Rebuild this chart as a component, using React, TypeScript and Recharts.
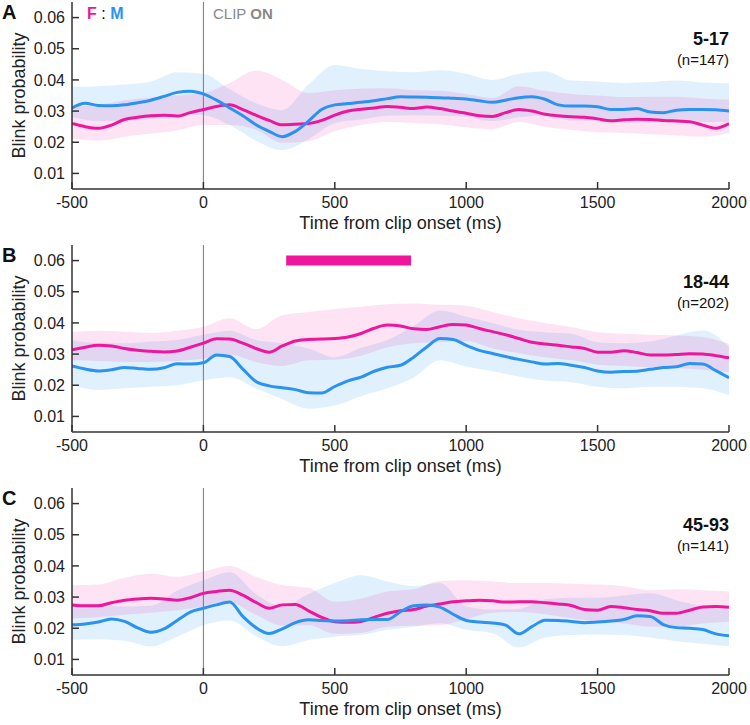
import {
  ComposedChart, Area, Line, XAxis, YAxis, ReferenceLine, ReferenceArea,
} from 'recharts';

// time grid for the mean traces (ms)
const TIMES = [
  -500, -450, -400, -350, -300, -250, -200, -150, -100, -50,
  0, 50, 100, 150, 200, 250, 300, 350, 400, 450,
  500, 550, 600, 650, 700, 750, 800, 850, 900, 950,
  1000, 1050, 1100, 1150, 1200, 1250, 1300, 1350, 1400, 1450,
  1500, 1550, 1600, 1650, 1700, 1750, 1800, 1850, 1900, 1950, 2000,
];
// coarser grid for the confidence bands
const BAND_TIMES = [
  -500, -400, -300, -200, -100, 0, 100, 200, 300, 400, 500, 600, 700,
  800, 900, 1000, 1100, 1200, 1300, 1400, 1500, 1600, 1700, 1800, 1900, 2000,
];
const X_TICKS = [-500, 0, 500, 1000, 1500, 2000];
const Y_TICKS = [0.01, 0.02, 0.03, 0.04, 0.05, 0.06];

// --- A: 5-17 ---
const A_F = [
  0.026, 0.025, 0.0245, 0.0255, 0.0273, 0.028, 0.0285, 0.0287, 0.0284, 0.0295,
  0.0305, 0.0315, 0.032, 0.0305, 0.0287, 0.027, 0.0256, 0.0258, 0.026, 0.027,
  0.0287, 0.03, 0.0306, 0.031, 0.0315, 0.0312, 0.0308, 0.0313, 0.0308, 0.03,
  0.0293, 0.0285, 0.0283, 0.0295, 0.0305, 0.03, 0.029, 0.0285, 0.0282, 0.028,
  0.0275, 0.0269, 0.0272, 0.0274, 0.0273, 0.027, 0.0268, 0.0266, 0.0255, 0.0245, 0.026,
];
const A_M = [
  0.031, 0.0325, 0.0318, 0.0317, 0.032, 0.0327, 0.0335, 0.0347, 0.036, 0.0364,
  0.0355, 0.0335, 0.031, 0.0285, 0.0256, 0.0235, 0.0218, 0.0235, 0.0268, 0.0305,
  0.032, 0.0324, 0.0328, 0.0333, 0.034, 0.0346, 0.0345, 0.0344, 0.0343, 0.0341,
  0.0339, 0.0333, 0.0328, 0.0335, 0.0343, 0.0346, 0.0338, 0.032, 0.0316, 0.0316,
  0.0314, 0.0305, 0.0305, 0.0308, 0.0297, 0.0295, 0.0303, 0.0305, 0.0305, 0.0304, 0.03,
];
const A_F_LO = [
  0.0212, 0.0205, 0.0218, 0.0228, 0.0238, 0.0255, 0.0255, 0.024, 0.0198, 0.0203, 0.0235, 0.0255, 0.0265,
  0.0262, 0.0258, 0.0248, 0.0242, 0.0265, 0.025, 0.024, 0.0232, 0.023, 0.0226, 0.0222, 0.0218, 0.023,
];
const A_F_HI = [
  0.0314, 0.032, 0.0335, 0.0343, 0.035, 0.0358, 0.039, 0.043, 0.04, 0.0358, 0.0367, 0.0372, 0.0373,
  0.0367, 0.0365, 0.0355, 0.0342, 0.038, 0.0365, 0.0355, 0.035, 0.0345, 0.0346, 0.0346, 0.034, 0.0336,
];
const A_M_LO = [
  0.028, 0.0268, 0.027, 0.0275, 0.029, 0.0287, 0.0255, 0.0205, 0.0175, 0.021, 0.0262, 0.0273, 0.0285,
  0.0287, 0.0285, 0.0282, 0.0268, 0.028, 0.0287, 0.027, 0.0268, 0.0262, 0.0263, 0.0266, 0.0265, 0.0266,
];
const A_M_HI = [
  0.0378, 0.038, 0.0385, 0.0395, 0.0425, 0.042, 0.037, 0.0325, 0.0303, 0.0385, 0.0448, 0.0435, 0.0428,
  0.0425, 0.0431, 0.042, 0.04, 0.042, 0.0428, 0.0398, 0.0395, 0.039, 0.0393, 0.0398, 0.0392, 0.0389,
];

// --- B: 18-44 ---
const B_F = [
  0.0314, 0.0322, 0.0328, 0.0326, 0.0318, 0.0312, 0.0309, 0.0307, 0.031, 0.0322,
  0.0335, 0.0349, 0.0348, 0.0335, 0.0318, 0.0306, 0.0326, 0.0342, 0.0347, 0.0348,
  0.035, 0.0355, 0.0366, 0.0383, 0.0393, 0.039, 0.0381, 0.0379, 0.0388, 0.0395,
  0.0393, 0.0382, 0.0372, 0.0362, 0.035, 0.0338, 0.0332, 0.0328, 0.0323, 0.0318,
  0.0306, 0.0306, 0.0311, 0.0305, 0.0297, 0.0297, 0.0299, 0.0301, 0.03, 0.0295, 0.0288,
];
const B_M = [
  0.0262, 0.0252, 0.0246, 0.025, 0.0257, 0.0254, 0.0251, 0.0256, 0.0269, 0.0268,
  0.0272, 0.0297, 0.0292, 0.0252, 0.0212, 0.0198, 0.0192, 0.0186, 0.0176, 0.0175,
  0.0196, 0.0214, 0.0226, 0.0245, 0.0258, 0.0264, 0.029, 0.0323, 0.035, 0.0347,
  0.0328, 0.0312, 0.0302, 0.0292, 0.0283, 0.0275, 0.0268, 0.027, 0.0264, 0.0257,
  0.0246, 0.0242, 0.0244, 0.0245, 0.0251, 0.0257, 0.0259, 0.027, 0.0268, 0.0247, 0.0224,
];
const B_F_LO = [
  0.028, 0.0278, 0.0275, 0.0275, 0.0278, 0.0285, 0.0298, 0.0275, 0.0262, 0.028, 0.0282, 0.0295, 0.0322,
  0.0335, 0.0338, 0.0342, 0.0318, 0.0303, 0.029, 0.028, 0.0266, 0.0262, 0.0258, 0.0255, 0.025, 0.0242,
];
const B_F_HI = [
  0.0371, 0.0375, 0.0372, 0.0368, 0.0375, 0.0387, 0.0415, 0.038, 0.0425, 0.0435, 0.0445, 0.0452, 0.046,
  0.0462, 0.0458, 0.0455, 0.0435, 0.0415, 0.04, 0.0387, 0.037, 0.0365, 0.0362, 0.036, 0.0355, 0.0333,
];
const B_M_LO = [
  0.02, 0.0185, 0.019, 0.0195, 0.02, 0.0216, 0.0226, 0.019, 0.0155, 0.0125, 0.0135, 0.0165, 0.019,
  0.0225, 0.028, 0.026, 0.0245, 0.0228, 0.0215, 0.021, 0.0195, 0.019, 0.0195, 0.0195, 0.019, 0.0168,
];
const B_M_HI = [
  0.0344, 0.0335, 0.0335, 0.034, 0.0345, 0.0362, 0.0375, 0.0345, 0.0335, 0.0318, 0.029, 0.032, 0.0345,
  0.039, 0.044, 0.042, 0.04, 0.0378, 0.037, 0.0365, 0.0338, 0.0335, 0.034, 0.036, 0.0376, 0.0324,
];
// significant-difference bar in panel B (ms)
const B_SIG = [315, 790];

// --- C: 45-93 ---
const C_F = [
  0.0275, 0.0272, 0.0272, 0.0282, 0.029, 0.0294, 0.0296, 0.0294, 0.029, 0.0298,
  0.0312, 0.0318, 0.0322, 0.0306, 0.0283, 0.0264, 0.0275, 0.0276, 0.0256, 0.0235,
  0.0221, 0.0219, 0.0222, 0.0235, 0.0248, 0.0256, 0.026, 0.0271, 0.0278, 0.0285,
  0.0288, 0.029, 0.0288, 0.0284, 0.0285, 0.0285, 0.0282, 0.0278, 0.0273, 0.026,
  0.0258, 0.027, 0.0266, 0.026, 0.0256, 0.0248, 0.0248, 0.0258, 0.0268, 0.027, 0.0267,
];
const C_M = [
  0.0211, 0.0214, 0.022, 0.023, 0.0222, 0.0201, 0.0187, 0.0198, 0.0225, 0.0252,
  0.0264, 0.0275, 0.0284, 0.0238, 0.0202, 0.0183, 0.0198, 0.0218, 0.0227, 0.0225,
  0.0223, 0.0224, 0.0227, 0.0228, 0.0228, 0.0253, 0.0272, 0.0275, 0.0268, 0.0245,
  0.0225, 0.022, 0.0217, 0.021, 0.0182, 0.0205, 0.0226, 0.0225, 0.0222, 0.0218,
  0.022, 0.0223, 0.0228, 0.024, 0.0238, 0.0212, 0.0202, 0.02, 0.0196, 0.0182, 0.0176,
];
const C_F_LO = [
  0.0232, 0.0235, 0.0243, 0.025, 0.0258, 0.0269, 0.0282, 0.0243, 0.0208, 0.021, 0.0182, 0.0185, 0.0205,
  0.0208, 0.021, 0.023, 0.025, 0.0252, 0.0245, 0.0232, 0.0222, 0.0215, 0.0205, 0.0205, 0.0215, 0.0221,
];
const C_F_HI = [
  0.0338, 0.034, 0.0362, 0.0375, 0.0365, 0.0382, 0.04, 0.0365, 0.0338, 0.033, 0.0285, 0.0295, 0.0318,
  0.0325, 0.0352, 0.0354, 0.035, 0.0345, 0.0345, 0.0343, 0.034, 0.0335, 0.0322, 0.0325, 0.0322, 0.0318,
];
const C_M_LO = [
  0.0163, 0.0165, 0.016, 0.0142, 0.0173, 0.021, 0.0225, 0.0175, 0.0142, 0.0162, 0.0173, 0.0178, 0.0195,
  0.0205, 0.0216, 0.0195, 0.0184, 0.0138, 0.017, 0.0178, 0.018, 0.0178, 0.017, 0.0158, 0.015, 0.0142,
];
const C_M_HI = [
  0.028, 0.0276, 0.027, 0.0272, 0.032, 0.0354, 0.038, 0.031, 0.027, 0.031, 0.0345, 0.037, 0.035,
  0.0335, 0.0345, 0.027, 0.026, 0.0262, 0.0293, 0.0298, 0.0298, 0.0305, 0.0312, 0.029, 0.027, 0.0259,
];

const PINK = '#f0169b';
const BLUE = '#2a93f0';
const FONT = '"Liberation Sans", Arial, Helvetica, sans-serif';

interface PanelProps {
  top: number;
  letter: string;
  group: string;
  n: string;
  female: number[];
  male: number[];
  fLo: number[];
  fHi: number[];
  mLo: number[];
  mHi: number[];
  sig?: number[];
  header?: boolean;
}

function Panel({ top, letter, group, n, female, male, fLo, fHi, mLo, mHi, sig, header }: PanelProps) {
  const lineRows = TIMES.map((t, i) => ({ t, f: female[i], m: male[i] }));
  const bandRows = BAND_TIMES.map((t, i) => ({
    t, f: [fLo[i], fHi[i]], m: [mLo[i], mHi[i]],
  }));
  const tick = { fontSize: 16, fill: '#222', fontFamily: FONT };

  return (
    <div style={{ position: 'absolute', left: 0, top, width: 750, height: 236 }}>
      <ComposedChart width={750} height={236} margin={{ top: 2, right: 21, bottom: 0, left: 17 }}>
        <XAxis
          type="number" dataKey="t" domain={[-500, 2000]} ticks={X_TICKS}
          allowDataOverflow height={47} tickSize={-7} tickMargin={15}
          tick={tick} stroke="#333" strokeWidth={1.5}
          label={{ value: 'Time from clip onset (ms)', position: 'insideBottom', offset: 7, fontSize: 18, fill: '#222', fontFamily: FONT }}
        />
        <YAxis
          type="number" domain={[0.005, 0.065]} ticks={Y_TICKS} allowDataOverflow
          width={55} tickSize={-7} tickMargin={14} tick={tick}
          tickFormatter={(v: number) => v.toFixed(2)} stroke="#333" strokeWidth={1.5}
          label={{ value: 'Blink probability', angle: -90, position: 'insideLeft', offset: 2, fontSize: 18, fill: '#222', fontFamily: FONT, style: { textAnchor: 'middle' } }}
        />
        <Area data={bandRows} dataKey="m" type="monotone" stroke="none" fill={BLUE} fillOpacity={0.14} isAnimationActive={false} />
        <Area data={bandRows} dataKey="f" type="monotone" stroke="none" fill={PINK} fillOpacity={0.12} isAnimationActive={false} />
        <ReferenceLine x={0} stroke="#777" strokeWidth={1} />
        {sig && (
          <ReferenceArea x1={sig[0]} x2={sig[1]} y1={0.0584} y2={0.0616} fill={PINK} fillOpacity={1} stroke="none" />
        )}
        <Line data={lineRows} dataKey="f" type="monotone" stroke={PINK} strokeWidth={3} dot={false} isAnimationActive={false} />
        <Line data={lineRows} dataKey="m" type="monotone" stroke={BLUE} strokeWidth={3} dot={false} isAnimationActive={false} />
      </ComposedChart>

      <div style={{ position: 'absolute', left: 2, top: 1, fontSize: 20, fontWeight: 'bold', fontFamily: FONT, color: '#111' }}>
        {letter}
      </div>
      {header && (
        <>
          <div style={{ position: 'absolute', left: 87, top: 5, fontSize: 16, fontFamily: FONT, whiteSpace: 'nowrap' }}>
            <b style={{ color: PINK }}>F</b> : <b style={{ color: BLUE }}>M</b>
          </div>
          <div style={{ position: 'absolute', left: 213, top: 5, fontSize: 15, fontFamily: FONT, color: '#888', whiteSpace: 'nowrap' }}>
            CLIP <b>ON</b>
          </div>
        </>
      )}
      <div style={{ position: 'absolute', right: 21, top: 29, textAlign: 'right', fontFamily: FONT, color: '#111', lineHeight: 1.2 }}>
        <div style={{ fontSize: 18, fontWeight: 'bold' }}>{group}</div>
        <div style={{ fontSize: 15 }}>{n}</div>
      </div>
    </div>
  );
}

export default function App() {
  return (
    <div style={{ position: 'absolute', left: 0, top: 0, width: 750, height: 725, background: '#fff' }}>
      <Panel top={0} letter="A" group="5-17" n="(n=147)" header
        female={A_F} male={A_M} fLo={A_F_LO} fHi={A_F_HI} mLo={A_M_LO} mHi={A_M_HI} />
      <Panel top={243} letter="B" group="18-44" n="(n=202)" sig={B_SIG}
        female={B_F} male={B_M} fLo={B_F_LO} fHi={B_F_HI} mLo={B_M_LO} mHi={B_M_HI} />
      <Panel top={486} letter="C" group="45-93" n="(n=141)"
        female={C_F} male={C_M} fLo={C_F_LO} fHi={C_F_HI} mLo={C_M_LO} mHi={C_M_HI} />
    </div>
  );
}
